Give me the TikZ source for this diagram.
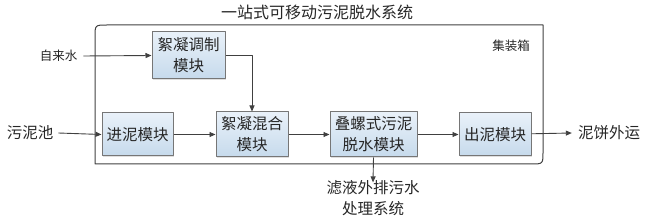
\documentclass[tikz,border=0pt]{standalone}
\usepackage{fontspec}
\setmainfont{Noto Sans CJK SC}
\usetikzlibrary{arrows.meta,shadows}
\definecolor{lineg}{HTML}{404040}
\definecolor{boxedge}{HTML}{767676}
\definecolor{boxtop}{HTML}{E9F1F9}
\definecolor{boxbot}{HTML}{C6DAEC}
\definecolor{txtg}{HTML}{262626}

\begin{document}
\begin{tikzpicture}[
  x=1pt,
  y=-1pt,
  line join=round,
  modbox/.style={draw=boxedge,line width=1pt,top color=boxtop,bottom color=boxbot,
    align=center,inner sep=0pt,text=txtg,font=\fontsize{15.5}{21}\selectfont,
    drop shadow={opacity=0.25,shadow xshift=1.2pt,shadow yshift=-1.2pt}},
  lbl/.style={align=center,inner sep=0pt,text=txtg,font=\fontsize{15.5}{20.5}\selectfont},
  small/.style={inner sep=0pt,text=txtg,font=\fontsize{12.5}{15}\selectfont},
  flow/.style={draw=lineg,line width=0.9pt,-{Triangle[length=6pt,width=5pt]}},
  frame/.style={draw=lineg,line width=1pt}
]
  % Match the artwork frame.
  \useasboundingbox (0,0) rectangle (650,224);

  % Container: only the top-left and bottom-right corners are rounded.
  \draw[frame] (95,164) -- (95,37) .. controls (95,25) .. (107,25) -- (543,25)
    -- (543,152) .. controls (543,164) .. (531,164) -- cycle;

  % Title and container label.
  \node[lbl,font=\fontsize{16}{20}\selectfont] (title) at (317,12) {一站式可移动污泥脱水系统};
  \node[small] (box) at (511,46) {集装箱};

  % Modules inside the container.
  \node[modbox,minimum width=73pt,minimum height=47pt] (tiaozhi) at (188.5,55.5) {絮凝调制\\模块};
  \node[modbox,minimum width=71pt,minimum height=43pt] (jinni) at (137.5,134.5) {进泥模块};
  \node[modbox,minimum width=72pt,minimum height=45pt] (hunhe) at (252,134.5) {絮凝混合\\模块};
  \node[modbox,minimum width=87pt,minimum height=45pt] (tuoshui) at (373.5,134.5) {叠螺式污泥\\脱水模块};
  \node[modbox,minimum width=72pt,minimum height=43pt] (chuni) at (495,134.5) {出泥模块};

  % Inputs and outputs outside the container.
  \node[small] (water) at (58.5,56) {自来水};
  \node[lbl] (pool) at (30,133) {污泥池};
  \node[lbl] (cake) at (609,133) {泥饼外运};
  \node[lbl] (filtrate) at (373,198) {滤液外排污水\\处理系统};

  % Flow arrows.
  \draw[flow] ([xshift=6pt]water.east) -- (tiaozhi.west);
  \draw[flow] (tiaozhi.east) -| (hunhe.north);
  \draw[flow] ([xshift=5pt]pool.east) -- (jinni.west);
  \draw[flow] (jinni) -- (hunhe);
  \draw[flow] (hunhe) -- (tuoshui);
  \draw[flow] (tuoshui) -- (chuni);
  \draw[flow] (chuni) -- ([xshift=-6pt]cake.west);
  \draw[flow] (tuoshui.south) -- ([yshift=-2pt]filtrate.north);
\end{tikzpicture}
\end{document}
